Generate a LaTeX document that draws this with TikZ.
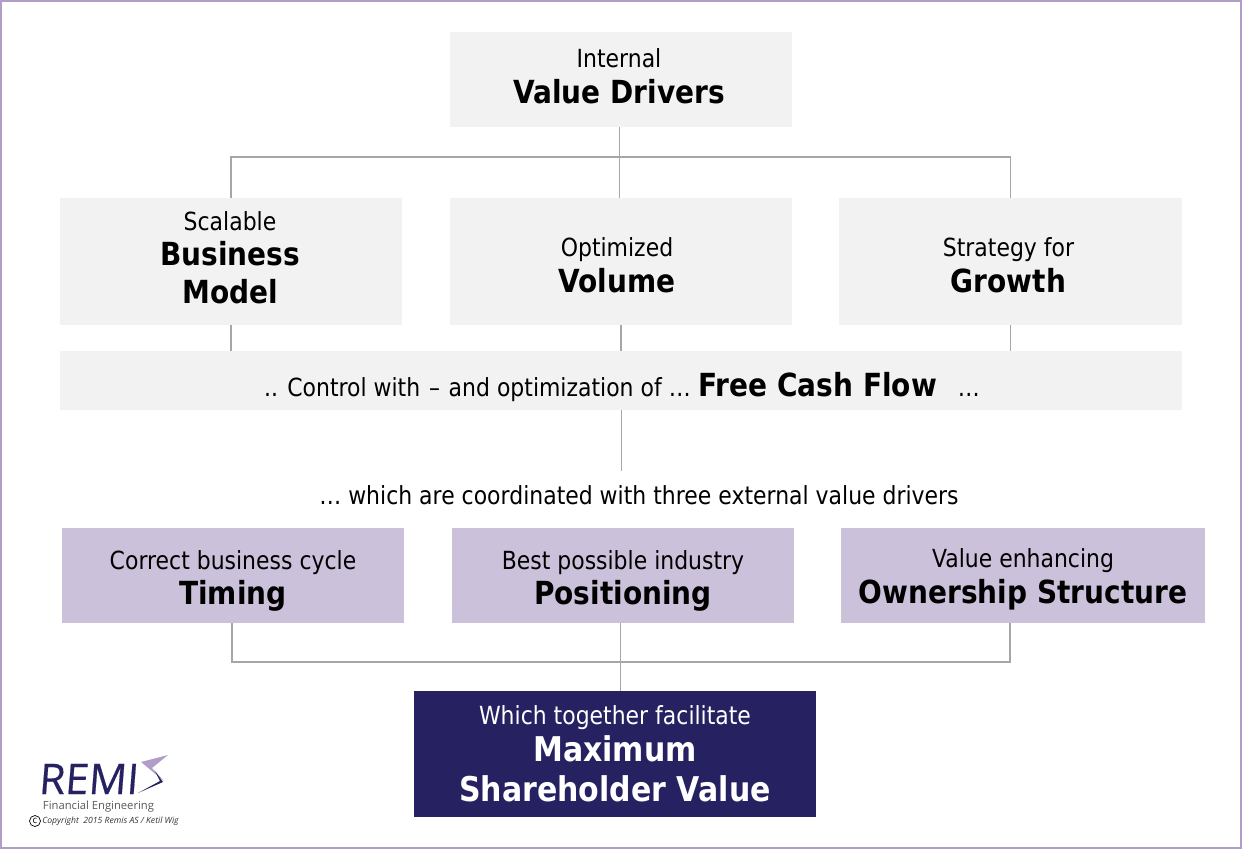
\documentclass[tikz,border=0pt]{standalone}
\usepackage{fontspec}
\setmainfont{DejaVu Sans}[FakeStretch=0.88]
\newfontfamily\logofont{Open Sans}
\usetikzlibrary{calc}
\definecolor{boxgrey}{HTML}{F2F2F2}
\definecolor{boxlilac}{HTML}{CCC1DA}
\definecolor{boxnavy}{HTML}{262262}
\definecolor{framelilac}{HTML}{B09EC8}
\definecolor{linegrey}{HTML}{A6A6A6}
\newlength{\pxunit}
\setlength{\pxunit}{0.02cm}
\newcommand{\lightline}[1]{{\fontsize{14.2}{17}\selectfont #1}}
\newcommand{\boldline}[1]{{\fontsize{18.1}{21}\selectfont\bfseries #1}}
\newcommand{\bigline}[1]{{\fontsize{19.4}{21}\selectfont\bfseries #1}}
% rows of a box, moved off the centre of the box by #1 and #2
\newcommand{\boxrows}[3]{\makebox[0pt]{\hspace*{#1\pxunit}\hspace*{#1\pxunit}\raisebox{\dimexpr#2\pxunit-2.5pt}[0pt][0pt]{\begin{tabular}[c]{@{}c@{}}#3\end{tabular}}}}
\tikzset{
	greybox/.style={fill=boxgrey, inner sep=0pt, text=black},
	lilacbox/.style={fill=boxlilac, inner sep=0pt, text=black},
	navybox/.style={fill=boxnavy, inner sep=0pt, text=white},
	tie/.style={draw=linegrey, line width=0.9pt}
}
\begin{document}
\begin{tikzpicture}[x=0.02cm, y=-0.02cm]
	%%%%% frame %%%%%
	\useasboundingbox (0, 0) rectangle (1242, 849);
	\fill[white] (0, 0) rectangle (1242, 849);
	\draw[framelilac, line width=1.3pt] (1, 1) rectangle (1241, 848);

	%%%%% internal drivers %%%%%
	\node[greybox, minimum width=342*0.02cm, minimum height=95*0.02cm] (drivers) at (621, 79.5)
		{\boxrows{-2}{0.5}{\lightline{Internal}\\[3pt]\boldline{Value Drivers}}};
	\node[greybox, minimum width=342*0.02cm, minimum height=127*0.02cm] (business) at (231, 261.5)
		{\boxrows{-1}{1}{\lightline{Scalable}\\[3pt]\boldline{Business}\\[4.2pt]\boldline{Model}}};
	\node[greybox, minimum width=342*0.02cm, minimum height=127*0.02cm] (volume) at (621, 261.5)
		{\boxrows{-4}{-6.5}{\lightline{Optimized}\\[3pt]\boldline{Volume}}};
	\node[greybox, minimum width=343*0.02cm, minimum height=127*0.02cm] (growth) at (1010.5, 261.5)
		{\boxrows{-2}{-6.5}{\lightline{Strategy for}\\[3pt]\boldline{Growth}}};
	\node[greybox, minimum width=1122*0.02cm, minimum height=59*0.02cm] (cashflow) at (621, 380.5)
		{\boxrows{1}{-7}{\lightline{.. Control with\kern1pt\ --\ \kern1pt and optimization of \dots\ \kern0.5pt}\boldline{Free Cash Flow}\lightline{\kern12pt\dots}}};

	%%%%% external drivers %%%%%
	\node[inner sep=0pt] (coordinated) at (639, 495)
		{\lightline{\dots\ which are coordinated with three external value drivers}};
	\node[lilacbox, minimum width=342*0.02cm, minimum height=95*0.02cm] (timing) at (233, 575.5)
		{\boxrows{0}{-5.5}{\lightline{Correct business cycle}\\[3pt]\boldline{Timing}}};
	\node[lilacbox, minimum width=342*0.02cm, minimum height=95*0.02cm] (positioning) at (623, 575.5)
		{\boxrows{0}{-5.5}{\lightline{Best possible industry}\\[3pt]\boldline{Positioning}}};
	\node[lilacbox, minimum width=364*0.02cm, minimum height=95*0.02cm] (ownership) at (1023, 575.5)
		{\boxrows{0}{-3.5}{\lightline{Value enhancing}\\[3pt]\boldline{Ownership Structure}}};
	\node[navybox, minimum width=402*0.02cm, minimum height=126*0.02cm] (shareholder) at (615, 754)
		{\boxrows{0}{-2.5}{\lightline{Which together facilitate}\\[3pt]\bigline{Maximum}\\[4.2pt]\bigline{Shareholder Value}}};

	%%%%% connectors %%%%%
	\coordinate (topbus) at (619.5, 157);
	\coordinate (lowbus) at (620.5, 662);
	\coordinate (timingfoot) at (232, 623);
	\coordinate (ownerfoot) at (1010, 623);
	\coordinate (coordinatedtop) at (621.5, 471);
	\draw[tie] (drivers.south -| topbus) -- (volume.north -| topbus);
	\draw[tie] (business.north) |- (topbus) -| (growth.north);
	\draw[tie] (business.south) -- (cashflow.north -| business.south);
	\draw[tie] (volume.south) -- (cashflow.north -| volume.south);
	\draw[tie] (growth.south) -- (cashflow.north -| growth.south);
	\draw[tie] (cashflow.south -| coordinatedtop) -- (coordinatedtop);
	\draw[tie] (timingfoot) |- (lowbus) -| (ownerfoot);
	\draw[tie] (positioning.south -| lowbus) -- (shareholder.north -| lowbus);

	%%%%% logo %%%%%
	\node[inner sep=0pt, text=boxnavy] (remi) at (88, 779)
		{\logofont\fontsize{24}{24}\selectfont\addfontfeatures{FakeSlant=0.08,FakeBold=0.4}REMI};
	\fill[framelilac] (141, 762) -- (168, 755) -- (152, 768) -- (164, 781) -- cycle;
	\fill[boxnavy] (155, 771) -- (163, 782) -- (138, 793) -- (160, 781) -- cycle;
	\node[inner sep=0pt, text=black!65] (engineering) at (98.5, 806.5)
		{\logofont\fontsize{6.4}{7}\selectfont Financial Engineering};
	\node[inner sep=0pt, text=black!80] (copyright) at (110.5, 821)
		{\logofont\fontsize{4.9}{5}\selectfont\itshape Copyright\ \ 2015 Remis AS / Ketil Wig};
	\node[draw, circle, inner sep=0pt, minimum size=11*0.02cm, line width=0.4pt] (copymark) at (35, 821)
		{\logofont\fontsize{5.5}{5}\selectfont c};
\end{tikzpicture}
\end{document}
